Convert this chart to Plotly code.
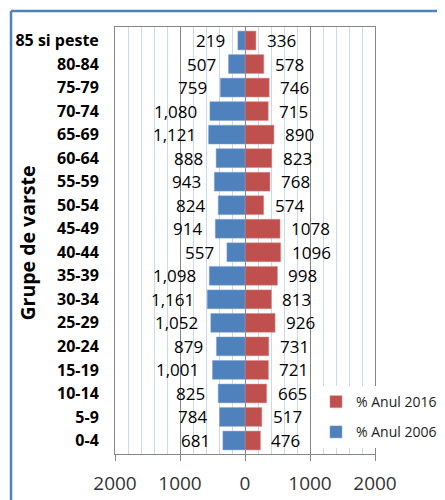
import plotly.graph_objects as go

# Data (top to bottom as in the reference)
age_groups = ["85 si peste", "80-84", "75-79", "70-74", "65-69", "60-64", "55-59",
              "50-54", "45-49", "40-44", "35-39", "30-34", "25-29", "20-24",
              "15-19", "10-14", "5-9", "0-4"]
values_2006 = [219, 507, 759, 1080, 1121, 888, 943, 824, 914, 557, 1098, 1161,
               1052, 879, 1001, 825, 784, 681]
values_2016 = [336, 578, 746, 715, 890, 823, 768, 574, 1078, 1096, 998, 813,
               926, 731, 721, 665, 517, 476]
labels_2006 = ["219", "507", "759", "1,080", "1,121", "888", "943", "824", "914",
               "557", "1,098", "1,161", "1,052", "879", "1,001", "825", "784", "681"]
labels_2016 = ["336", "578", "746", "715", "890", "823", "768", "574", "1078",
               "1096", "998", "813", "926", "731", "721", "665", "517", "476"]
tick_values = [-4000, -2000, 0, 2000, 4000]
tick_labels = ["2000", "1000", "0", "1000", "2000"]

BLUE = "#4F81BD"
RED = "#C0504D"
GRAY = "#868686"
FONT = "Open Sans"

fig = go.Figure()
fig.add_trace(go.Bar(
    y=age_groups, x=values_2016, orientation="h",
    name="% Anul 2016", marker=dict(color=RED, line=dict(color="#D98A88", width=0.5)),
    legendgroup="a", legendrank=1, hoverinfo="skip"))
fig.add_trace(go.Bar(
    y=age_groups, x=[-v for v in values_2006], orientation="h",
    name="% Anul 2006", marker=dict(color=BLUE, line=dict(color="#7FA3D3", width=0.5)),
    legendgroup="b", legendrank=2, hoverinfo="skip"))

annotations = []
for cat, v, t in zip(age_groups, values_2006, labels_2006):
    annotations.append(dict(x=-v, y=cat, xref="x", yref="y", text=t, showarrow=False,
                            xanchor="right", xshift=-11,
                            font=dict(family=FONT, size=17, color="#000000")))
for cat, v, t in zip(age_groups, values_2016, labels_2016):
    annotations.append(dict(x=v, y=cat, xref="x", yref="y", text=t, showarrow=False,
                            xanchor="left", xshift=9,
                            font=dict(family=FONT, size=17, color="#000000")))
annotations.append(dict(x=-0.335, y=0.495, xref="paper", yref="paper",
                        xanchor="center", yanchor="middle",
                        text="<b>Grupe de varste</b>", textangle=-90, showarrow=False,
                        font=dict(family=FONT, size=19.5, color="#000000")))

fig.update_layout(
    width=437, height=492,
    margin=dict(l=107, r=70, t=19, b=46, autoexpand=False),
    paper_bgcolor="white", plot_bgcolor="white",
    barmode="relative", bargap=0.2,
    font=dict(family=FONT, color="#000000"),
    annotations=annotations,
    legend=dict(x=0.773, y=0.159, xanchor="left", yanchor="top",
                bgcolor="white", borderwidth=0,
                traceorder="grouped", tracegroupgap=9,
                font=dict(family=FONT, size=14, color="#222222")),
    shapes=[
        dict(type="line", xref="paper", yref="paper", x0=-0.4, x1=1.35,
             y0=1.0375, y1=1.0375, line=dict(color=BLUE, width=2.5)),
        dict(type="line", xref="paper", yref="paper", x0=-0.4, x1=-0.4,
             y0=1.0375, y1=-0.2, line=dict(color=BLUE, width=2.5)),
    ],
)
fig.update_xaxes(
    range=[-4000, 4000], tickmode="array", tickvals=tick_values, ticktext=tick_labels,
    showgrid=True, gridcolor=GRAY, gridwidth=1,
    minor=dict(tickmode="linear", tick0=0, dtick=400, showgrid=True,
               gridcolor="#C9D9F0", gridwidth=1),
    zeroline=True, zerolinecolor=GRAY, zerolinewidth=1,
    showline=True, mirror=True, linecolor=GRAY, linewidth=1,
    ticks="outside", ticklen=6, tickcolor=GRAY, ticklabelstandoff=6,
    tickfont=dict(family=FONT, size=19, color="#333333"), fixedrange=True,
    automargin=False)
fig.update_yaxes(
    autorange="reversed", showgrid=False, showline=True, mirror=True,
    linecolor=GRAY, linewidth=1, ticks="", ticklabelstandoff=12,
    tickfont=dict(family=FONT, size=16, color="#000000", weight="bold"),
    fixedrange=True, automargin=False)

fig.write_html("out.html", config={"displayModeBar": False})
